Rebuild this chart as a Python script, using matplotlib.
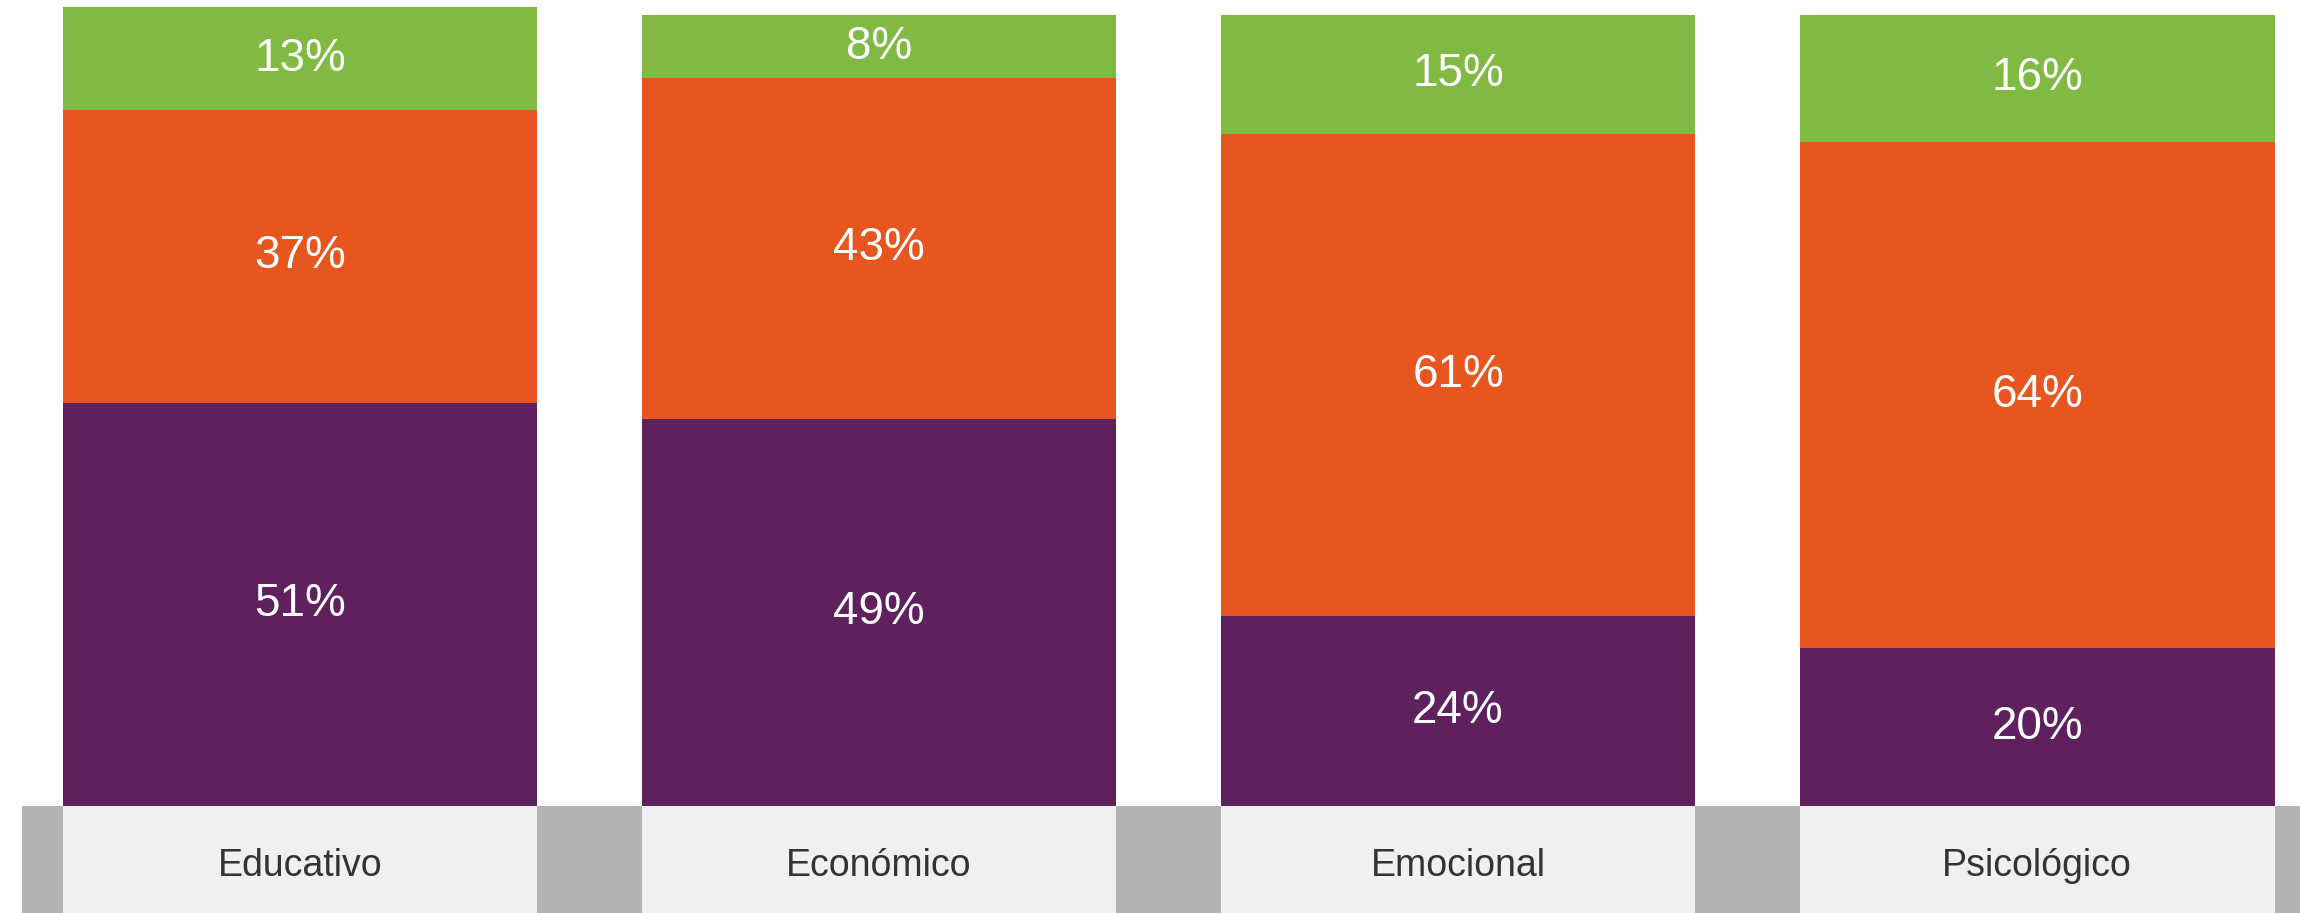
import matplotlib
matplotlib.use("Agg")
import matplotlib.pyplot as plt
from matplotlib.patches import Rectangle
import numpy as np

# Datos
categorias = ["Educativo", "Económico", "Emocional", "Psicológico"]
morado = [51, 49, 24, 20]
naranja = [37, 43, 61, 64]
verde = [13, 8, 15, 16]

COL_VERDE = "#80BA42"
COL_NARANJA = "#E8561F"
COL_MORADO = "#5E215E"
COL_GRIS = "#B3B3B3"
COL_CLARO = "#F0F0F0"

plt.rcParams["font.family"] = ["Liberation Sans Narrow", "Liberation Sans", "DejaVu Sans"]

fig = plt.figure(figsize=(23, 9.13), dpi=100)
ax = fig.add_axes([0, 0, 1, 1])

x = np.arange(len(categorias))
ancho = 0.82
fondo = 13.5  # profundidad de la franja de etiquetas

# franja gris detras de las etiquetas
ax.add_patch(Rectangle((-0.48, -fondo), 4.0, fondo, color=COL_GRIS, lw=0, zorder=0))
ax.bar(x, fondo, bottom=-fondo, width=ancho, color=COL_CLARO, lw=0, zorder=1)

b1 = ax.bar(x, morado, width=ancho, color=COL_MORADO, lw=0, zorder=2)
b2 = ax.bar(x, naranja, bottom=morado, width=ancho, color=COL_NARANJA, lw=0, zorder=2)
base_verde = np.array(morado) + np.array(naranja)
b3 = ax.bar(x, verde, bottom=base_verde, width=ancho, color=COL_VERDE, lw=0, zorder=2)

for barras in (b1, b2, b3):
    ax.bar_label(barras, labels=[f"{int(v)}%" for v in barras.datavalues],
                 label_type="center", color="white", fontsize=33, zorder=3)

for xi, cat in zip(x, categorias):
    ax.text(xi, -fondo * 0.56, cat, ha="center", va="center", fontsize=27,
            color="#333333", zorder=3)

ax.set_xlim(-0.518, 3.454)
ax.set_ylim(-fondo, 101.9)
ax.axis("off")

fig.savefig("out.png", dpi=100)
